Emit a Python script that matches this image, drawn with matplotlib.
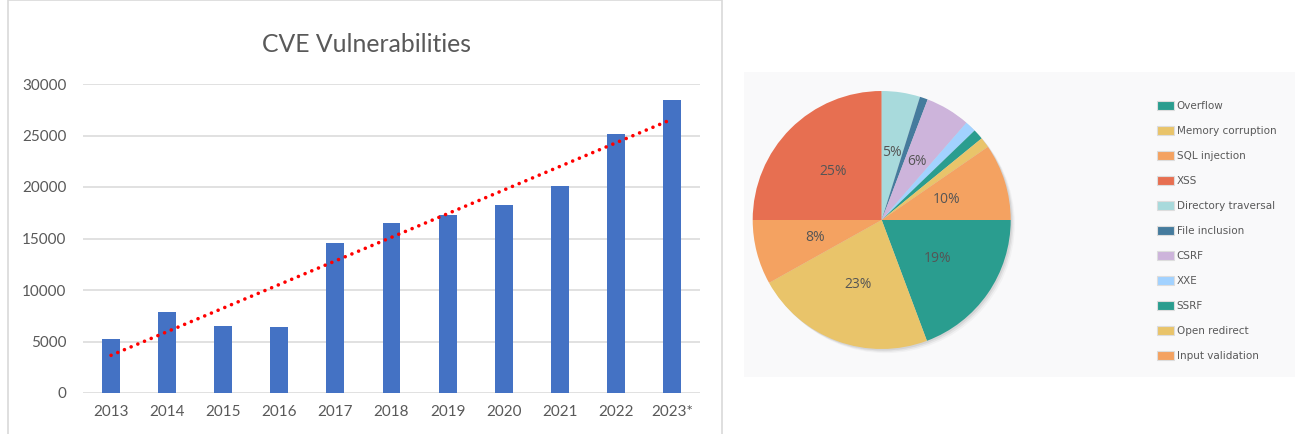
import matplotlib.pyplot as plt
import numpy as np
from matplotlib.patches import Patch, Rectangle, Circle


years = ["2013", "2014", "2015", "2016", "2017", "2018",
         "2019", "2020", "2021", "2022", "2023*"]
cve_counts = [5200, 7900, 6500, 6400, 14600, 16500,
              17300, 18300, 20100, 25100, 28400]
y_ticks = [0, 5000, 10000, 15000, 20000, 25000, 30000]

vuln_types = ["Overflow", "Memory corruption", "SQL injection", "XSS",
              "Directory traversal", "File inclusion", "CSRF", "XXE",
              "SSRF", "Open redirect", "Input validation"]
vuln_shares = [19.3, 22.6, 8.1, 25.0, 4.8, 1.0, 5.6, 1.4, 1.3, 1.3, 9.6]

slice_colors = ["#2a9d8f", "#e9c46a", "#f4a261", "#e76f51", "#a8dadc",
                "#457b9d", "#cdb4db", "#a2d2ff", "#2a9d8f", "#e9c46a",
                "#f4a261"]

TEXT = "#595959"
GRID = "#d9d9d9"


def pct_label(p):
    """
    Only label the larger slices.
    """
    return f"{p:.0f}%" if p >= 4 else ""


def main():
    fig = plt.figure(figsize=(12.95, 4.34), dpi=100)
    W, H = 1295, 434

    # outer frame of the bar chart
    fig.patches.append(Rectangle((8 / W, 10 / H - 0.2), 714 / W, 1.2 - 10 / H,
                                 transform=fig.transFigure, fill=False,
                                 edgecolor=GRID, linewidth=1.2))
    # light panel behind the pie
    fig.patches.append(Rectangle((744 / W, 57 / H), 551 / W, 305 / H,
                                 transform=fig.transFigure,
                                 facecolor="#f9f9fa", edgecolor="none",
                                 zorder=-1))

    # ---- bar chart ----
    ax = fig.add_axes([83 / W, 41 / H, 617 / W, 309 / H])
    x = np.arange(len(years))
    ax.bar(x, cve_counts, width=0.32, color="#4472c4", zorder=3)

    slope, intercept = np.polyfit(x, cve_counts, 1)
    ax.plot(x, np.polyval([slope, intercept], x), color="#ff0000",
            linewidth=2.6, linestyle=(0, (0.01, 2.0)),
            dash_capstyle="round", zorder=4)

    ax.set_xlim(-0.5, len(years) - 0.5)
    ax.set_ylim(0, 30000)
    ax.set_yticks(y_ticks)
    ax.set_xticks(x, years)
    ax.grid(axis="y", color=GRID, linewidth=1.1, zorder=0)
    for side in ["top", "right", "left", "bottom"]:
        ax.spines[side].set_visible(False)
    ax.tick_params(length=0, colors=TEXT, labelsize=11)
    ax.tick_params(axis="y", pad=12)
    ax.tick_params(axis="x", pad=9)
    for lab in ax.get_xticklabels() + ax.get_yticklabels():
        lab.set_fontfamily("Lato")
    fig.text(366 / W, 1 - 44 / H, "CVE Vulnerabilities", ha="center",
             va="center", fontsize=17.8, color=TEXT, fontfamily="Lato")

    # ---- pie chart ----
    r_px = 129
    size = 2.2 * r_px
    pax = fig.add_axes([(881.7 - size / 2) / W, (H - 220 - size / 2) / H,
                        size / W, size / H])
    # soft shadow under the pie
    for off, a in [(0.012, 0.07), (0.022, 0.05), (0.032, 0.03)]:
        pax.add_patch(Circle((off, -off), 1.0, color="#000000", alpha=a,
                             linewidth=0, zorder=0))
    wedges, _, autotexts = pax.pie(
        vuln_shares, colors=slice_colors, startangle=0, counterclock=False,
        autopct=pct_label, pctdistance=0.53,
        wedgeprops={"linewidth": 0}, textprops={"zorder": 5})
    for t in autotexts:
        t.set_fontfamily("Open Sans")
        t.set_fontsize(10)
        t.set_color("#555555")
    pax.set_xlim(-1.1, 1.1)
    pax.set_ylim(-1.1, 1.1)
    pax.set_aspect("equal")
    pax.axis("off")

    handles = [Patch(facecolor=c, edgecolor="#dddddd", linewidth=0.8)
               for c in slice_colors]
    fig.legend(handles, vuln_types, loc="upper left",
               bbox_to_anchor=(1157 / W, 1 - 101 / H), frameon=False,
               borderpad=0, borderaxespad=0, handlelength=1.6,
               handleheight=0.96, handletextpad=0.3, labelspacing=1.43,
               prop={"family": "DejaVu Sans", "size": 7.5},
               labelcolor=TEXT)

    plt.savefig("out.png", dpi=100)


if __name__ == "__main__":
    main()
